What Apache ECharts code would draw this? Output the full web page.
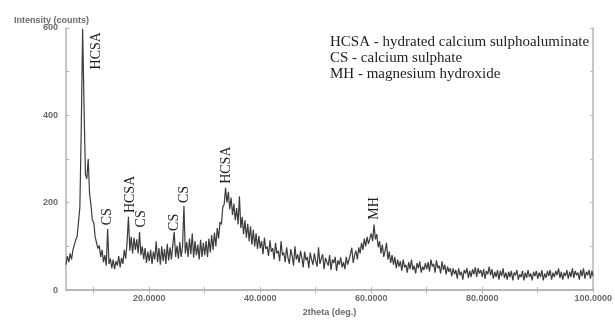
<!DOCTYPE html>
<html>
<head>
<meta charset="utf-8">
<script src="https://cdn.jsdelivr.net/npm/echarts@6/dist/echarts.min.js"></script>
<style>
  html, body { margin: 0; padding: 0; background: #fff; }
  #chart { width: 615px; height: 322px; }
</style>
</head>
<body>
<div id="chart"></div>
<script>
// 2theta from 5 to 100 deg, step 0.25
const thetaStart = 5;
const thetaStep = 0.25;
const intensity = [
  58, 78, 64, 84, 70, 92, 90, 115, 122, 155, 190, 370, 598, 420, 265, 255, 300, 220, 195, 160,
  155, 122, 125, 95, 102, 76, 92, 64, 80, 56, 140, 60, 72, 50, 70, 48, 66, 56, 78, 52,
  74, 60, 92, 72, 108, 168, 90, 122, 84, 120, 92, 116, 84, 133, 80, 100, 70, 96, 62, 88,
  66, 92, 60, 88, 70, 112, 64, 96, 58, 100, 66, 94, 60, 106, 68, 98, 70, 104, 133, 76,
  102, 72, 110, 76, 100, 193, 84, 110, 76, 118, 82, 130, 74, 112, 80, 104, 70, 115, 76, 108,
  80, 112, 76, 118, 86, 126, 92, 132, 100, 142, 118, 156, 150, 190, 196, 234, 200, 225, 185, 212,
  172, 198, 160, 188, 150, 215, 142, 168, 128, 160, 120, 152, 112, 146, 104, 138, 100, 130, 94, 124,
  96, 112, 82, 120, 94, 100, 78, 114, 88, 96, 70, 108, 84, 90, 66, 112, 80, 86, 64, 98,
  74, 60, 94, 78, 56, 100, 70, 82, 62, 90, 74, 52, 88, 68, 76, 50, 86, 70, 58, 84,
  66, 54, 98, 60, 72, 82, 48, 74, 64, 56, 80, 46, 70, 62, 76, 44, 68, 58, 75, 52,
  64, 48, 76, 58, 70, 82, 97, 62, 80, 90, 70, 98, 84, 108, 92, 118, 100, 122, 106, 118,
  130, 112, 150, 116, 128, 98, 112, 84, 104, 76, 90, 108, 70, 88, 62, 80, 58, 76, 50, 70,
  54, 66, 44, 70, 52, 58, 40, 64, 48, 70, 46, 56, 38, 62, 50, 66, 40, 54, 46, 62,
  48, 64, 42, 70, 54, 60, 40, 68, 50, 56, 38, 66, 46, 58, 36, 54, 42, 50, 32, 50,
  36, 46, 26, 50, 34, 42, 24, 46, 38, 50, 28, 44, 30, 48, 36, 52, 30, 50, 38, 46,
  30, 48, 26, 44, 36, 54, 34, 48, 26, 42, 30, 46, 24, 44, 32, 50, 28, 40, 24, 42,
  30, 44, 22, 40, 34, 46, 24, 36, 30, 44, 22, 40, 28, 46, 30, 38, 22, 42, 32, 44,
  26, 40, 30, 46, 22, 38, 28, 44, 32, 46, 24, 40, 30, 44, 34, 50, 28, 42, 24, 40,
  32, 46, 26, 42, 30, 50, 28, 44, 34, 40, 24, 46, 32, 50, 26, 42, 34, 46, 26, 44, 32
];

// peak labels: name, 2theta and height of the label centre
const peakNames = ['HCSA', 'CS', 'HCSA', 'CS', 'CS', 'CS', 'HCSA', 'MH'];
const peakTheta = [10.4, 12.5, 16.6, 18.6, 24.6, 26.4, 33.9, 60.5];
const peakLabelY = [548, 168, 219, 163, 155, 219, 286, 187];

const legendLines = [
  'HCSA - hydrated calcium sulphoaluminate',
  'CS - calcium sulphate',
  'MH - magnesium hydroxide'
];

const xTicks = [10, 20, 30, 40, 50, 60, 70, 80, 90, 100];
const xLabels = [20, 40, 60, 80, 100];

const points = intensity.map((v, i) => [thetaStart + i * thetaStep, v]);

const axisGray = '#b4b4b4';
const labelStyle = { color: '#6a6a6a', fontSize: 9, fontWeight: 'bold', fontFamily: 'Liberation Sans, Arial, sans-serif' };

const chart = echarts.init(document.getElementById('chart'));

chart.setOption({
  animation: false,
  backgroundColor: '#fff',
  title: {
    text: 'Intensity (counts)',
    left: 9,
    top: 11,
    textStyle: { color: '#6a6a6a', fontSize: 9, fontWeight: 'bold', fontFamily: 'Liberation Sans, Arial, sans-serif' }
  },
  grid: { left: 66, right: 15, top: 28, bottom: 15 },
  graphic: [{
    type: 'text',
    left: 330,
    top: 34,
    style: {
      text: legendLines.join('\n'),
      font: '15px "Liberation Serif", "Times New Roman", serif',
      fill: '#1e1e1e',
      lineHeight: 16
    }
  }],
  xAxis: [{
    type: 'value',
    min: 5,
    max: 100,
    name: '2theta (deg.)',
    nameLocation: 'middle',
    nameGap: 17,
    nameTextStyle: labelStyle,
    axisLine: { lineStyle: { color: axisGray, width: 1.5 } },
    axisTick: { inside: true, length: 3, customValues: xTicks, lineStyle: { color: axisGray } },
    axisLabel: Object.assign({ customValues: xLabels, margin: 4, formatter: v => v.toFixed(4) }, labelStyle),
    splitLine: { show: false }
  }, {
    type: 'value',
    position: 'top',
    min: 5,
    max: 100,
    axisLine: { show: true, lineStyle: { color: axisGray, width: 1.5 } },
    axisTick: { show: true, inside: true, length: 3, customValues: xTicks, lineStyle: { color: axisGray } },
    axisLabel: { show: false },
    splitLine: { show: false }
  }],
  yAxis: [{
    type: 'value',
    min: 0,
    max: 600,
    interval: 200,
    axisLine: { show: true, lineStyle: { color: axisGray, width: 1.5 } },
    axisTick: { show: true, inside: true, length: 3, lineStyle: { color: axisGray } },
    minorTick: { show: true, splitNumber: 2, length: 3, lineStyle: { color: axisGray } },
    axisLabel: Object.assign({ margin: 8 }, labelStyle),
    splitLine: { show: false }
  }, {
    type: 'value',
    position: 'right',
    min: 0,
    max: 600,
    interval: 100,
    axisLine: { show: true, lineStyle: { color: axisGray, width: 1.5 } },
    axisTick: { show: true, inside: true, length: 3, lineStyle: { color: axisGray } },
    axisLabel: { show: false },
    splitLine: { show: false }
  }],
  series: [{
    type: 'line',
    data: points,
    symbol: 'none',
    lineStyle: { color: '#3c3c3c', width: 1.2 },
    markPoint: {
      symbol: 'circle',
      symbolSize: 0,
      label: {
        show: true,
        position: 'inside',
        rotate: 90,
        formatter: '{b}',
        color: '#1e1e1e',
        fontSize: 14,
        fontFamily: '"Liberation Serif", "Times New Roman", serif'
      },
      data: peakNames.map((n, i) => ({ name: n, coord: [peakTheta[i], peakLabelY[i]] }))
    }
  }]
});
</script>
</body>
</html>
